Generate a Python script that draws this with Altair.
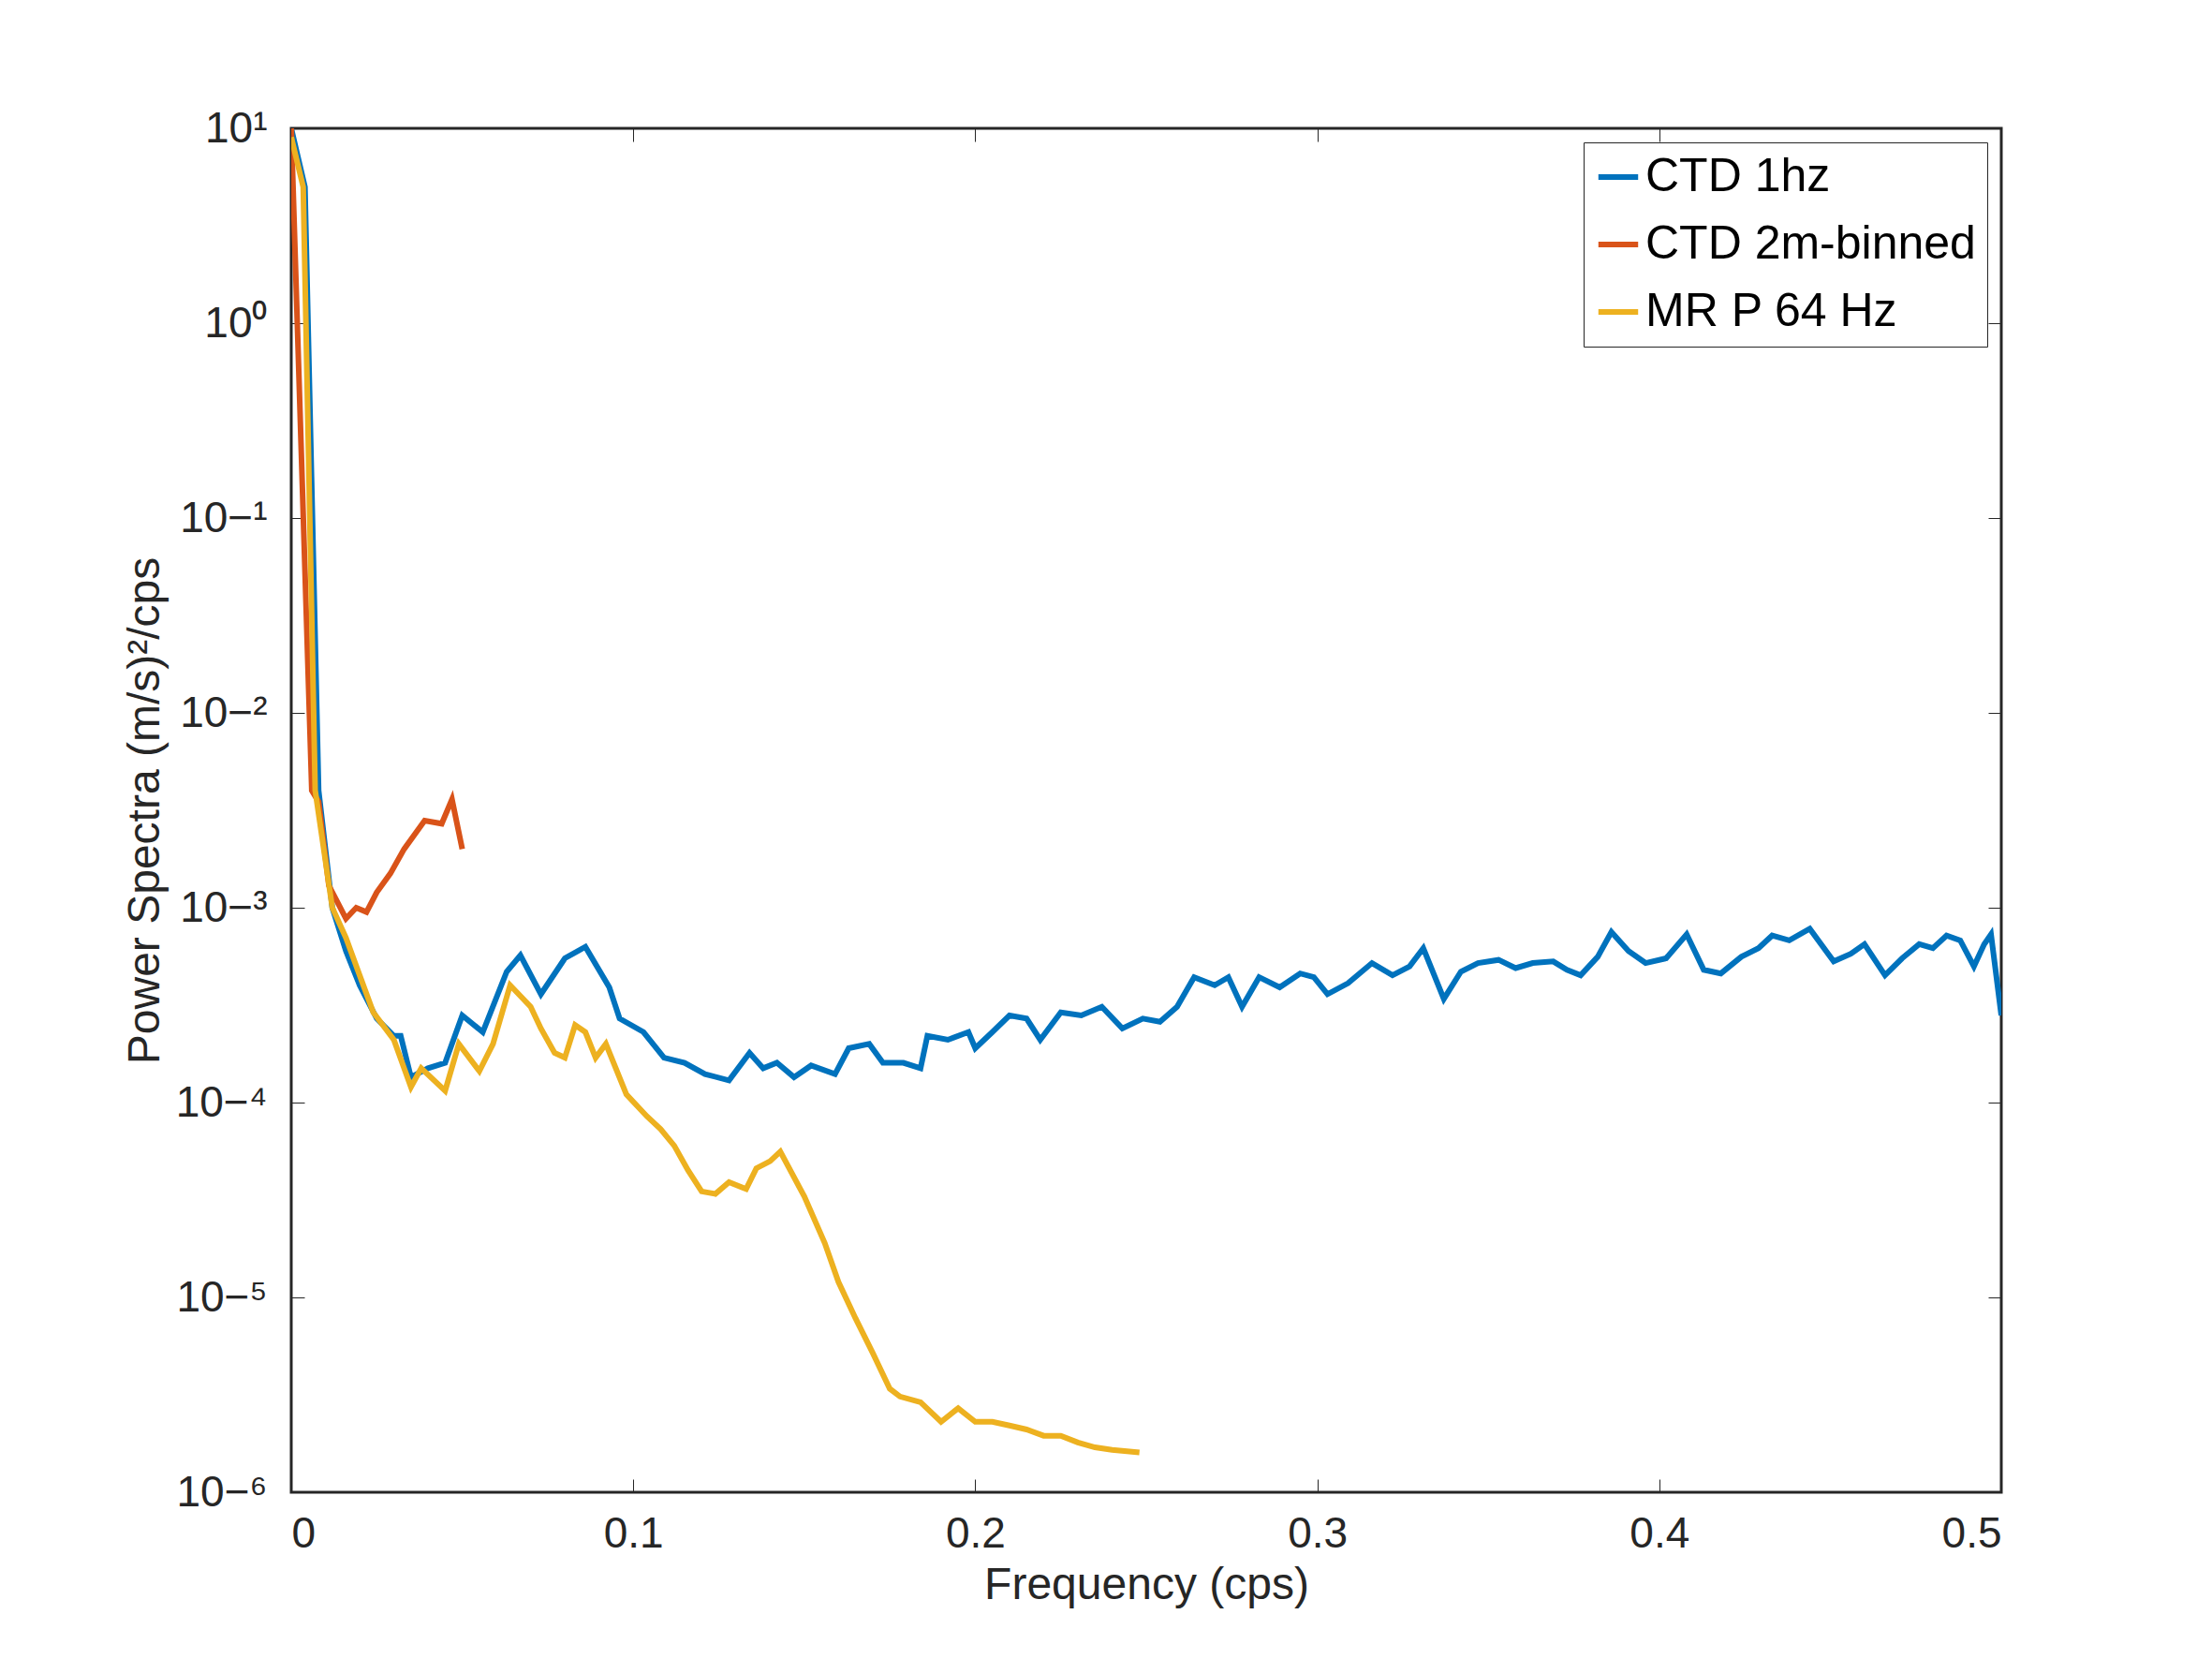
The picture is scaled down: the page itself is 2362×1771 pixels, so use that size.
import altair as alt
import pandas as pd

# CTD 1hz
blue_f = [0, 0.004, 0.008, 0.012, 0.016, 0.02, 0.025, 0.03, 0.032, 0.035, 0.04, 0.045, 0.05, 0.056,
          0.063, 0.067, 0.073, 0.08, 0.086, 0.093, 0.096, 0.103, 0.109, 0.115, 0.121, 0.128, 0.134,
          0.138, 0.142, 0.147, 0.152, 0.159, 0.163, 0.169, 0.173, 0.179, 0.184, 0.186, 0.192, 0.198,
          0.2, 0.205, 0.21, 0.215, 0.219, 0.225, 0.231, 0.237, 0.243, 0.249, 0.254, 0.259, 0.264,
          0.27, 0.274, 0.278, 0.283, 0.289, 0.295, 0.299, 0.303, 0.309, 0.316, 0.322, 0.327, 0.331,
          0.337, 0.342, 0.347, 0.353, 0.358, 0.363, 0.369, 0.373, 0.377, 0.382, 0.386, 0.391, 0.396,
          0.402, 0.408, 0.413, 0.418, 0.424, 0.429, 0.433, 0.438, 0.444, 0.451, 0.456, 0.46, 0.466,
          0.471, 0.476, 0.48, 0.484, 0.488, 0.492, 0.495, 0.497, 0.5]
blue_p = [10, 5, 4e-3, 1e-3, 6e-4, 4e-4, 2.7e-4, 2.2e-4, 2.2e-4, 1.35e-4, 1.5e-4, 1.6e-4, 2.8e-4, 2.3e-4,
          4.7e-4, 5.7e-4, 3.6e-4, 5.5e-4, 6.3e-4, 3.9e-4, 2.7e-4, 2.3e-4, 1.7e-4, 1.6e-4, 1.4e-4, 1.3e-4,
          1.8e-4, 1.5e-4, 1.6e-4, 1.35e-4, 1.55e-4, 1.4e-4, 1.9e-4, 2e-4, 1.6e-4, 1.6e-4, 1.5e-4, 2.2e-4,
          2.1e-4, 2.3e-4, 1.9e-4, 2.3e-4, 2.8e-4, 2.7e-4, 2.1e-4, 2.9e-4, 2.8e-4, 3.1e-4, 2.4e-4, 2.7e-4,
          2.6e-4, 3.1e-4, 4.4e-4, 4e-4, 4.4e-4, 3.1e-4, 4.4e-4, 3.9e-4, 4.6e-4, 4.4e-4, 3.6e-4, 4.1e-4,
          5.2e-4, 4.5e-4, 5e-4, 6.2e-4, 3.4e-4, 4.7e-4, 5.2e-4, 5.4e-4, 4.9e-4, 5.2e-4, 5.3e-4, 4.8e-4,
          4.5e-4, 5.6e-4, 7.5e-4, 6e-4, 5.2e-4, 5.5e-4, 7.3e-4, 4.8e-4, 4.6e-4, 5.6e-4, 6.2e-4, 7.2e-4,
          6.8e-4, 7.8e-4, 5.3e-4, 5.8e-4, 6.5e-4, 4.5e-4, 5.5e-4, 6.5e-4, 6.2e-4, 7.2e-4, 6.8e-4, 5e-4,
          6.5e-4, 7.3e-4, 2.8e-4]

# CTD 2m-binned
red_f = [0, 0.006, 0.008, 0.011, 0.016, 0.019, 0.022, 0.025, 0.029, 0.033, 0.039, 0.044, 0.047, 0.05]
red_p = [10, 4e-3, 3.5e-3, 1.3e-3, 8.8e-4, 1e-3, 9.5e-4, 1.2e-3, 1.5e-3, 2e-3, 2.8e-3, 2.7e-3, 3.6e-3, 2e-3]

# MR P 64 Hz
yel_f = [0, 0.0035, 0.007, 0.012, 0.016, 0.02, 0.024, 0.03, 0.035, 0.038, 0.045, 0.049, 0.055, 0.059,
         0.064, 0.07, 0.073, 0.077, 0.08, 0.083, 0.086, 0.089, 0.092, 0.098, 0.104, 0.108, 0.112, 0.116,
         0.12, 0.124, 0.128, 0.133, 0.136, 0.14, 0.143, 0.15, 0.156, 0.16, 0.165, 0.17, 0.175, 0.178,
         0.184, 0.19, 0.195, 0.2, 0.205, 0.21, 0.215, 0.22, 0.225, 0.23, 0.235, 0.24, 0.248]
yel_p = [9, 5, 4e-3, 1e-3, 7e-4, 4.5e-4, 2.9e-4, 2.1e-4, 1.2e-4, 1.5e-4, 1.15e-4, 2e-4, 1.45e-4, 2e-4,
         4e-4, 3.1e-4, 2.4e-4, 1.8e-4, 1.7e-4, 2.5e-4, 2.3e-4, 1.7e-4, 2e-4, 1.1e-4, 8.5e-5, 7.3e-5,
         6e-5, 4.5e-5, 3.5e-5, 3.4e-5, 3.9e-5, 3.6e-5, 4.6e-5, 5e-5, 5.6e-5, 3.3e-5, 1.9e-5, 1.2e-5,
         7.8e-6, 5.2e-6, 3.4e-6, 3.1e-6, 2.9e-6, 2.3e-6, 2.7e-6, 2.3e-6, 2.3e-6, 2.2e-6, 2.1e-6,
         1.95e-6, 1.95e-6, 1.8e-6, 1.7e-6, 1.65e-6, 1.6e-6]

names = ["CTD 1hz", "CTD 2m-binned", "MR P 64 Hz"]
colors = ["#0072BD", "#D95319", "#EDB120"]
x_ticks = [0, 0.1, 0.2, 0.3, 0.4, 0.5]
y_ticks = [1e-6, 1e-5, 1e-4, 1e-3, 1e-2, 1e-1, 1, 10]

df = pd.concat([
    pd.DataFrame({"f": blue_f, "p": blue_p, "s": names[0], "o": range(len(blue_f))}),
    pd.DataFrame({"f": red_f, "p": red_p, "s": names[1], "o": range(len(red_f))}),
    pd.DataFrame({"f": yel_f, "p": yel_p, "s": names[2], "o": range(len(yel_f))}),
])

FONT = "Liberation Sans"
sup = "replace(replace(replace(replace(replace(replace(replace(replace(format(log(datum.value)/log(10),'d'),'-','⁻'),'0','⁰'),'1','¹'),'2','²'),'3','³'),'4','⁴'),'5','⁵'),'6','⁶')"
ylab = "'10' + " + sup

xs = alt.Scale(domain=[0, 0.5], nice=False)
ys = alt.Scale(type="log", domain=[1e-6, 10], nice=False)
ax_common = dict(tickSize=14, offset=-14, tickColor="#262626", domain=False,
                 labelFont=FONT, labelFontSize=46, labelColor="#262626", grid=False,
                 titleFont=FONT, titleFontSize=48, titleFontWeight="normal", titleColor="#262626")

lines = alt.Chart(df).mark_line(strokeWidth=6, clip=True).encode(
    x=alt.X("f:Q", scale=xs, title="Frequency (cps)",
            axis=alt.Axis(values=x_ticks, labelExpr="datum.value == 0 ? '0' : format(datum.value, '.1f')",
                          labelPadding=22, titlePadding=8, **ax_common)),
    y=alt.Y("p:Q", scale=ys, title="Power Spectra (m/s)²/cps",
            axis=alt.Axis(values=y_ticks, labelExpr=ylab,
                          labelPadding=26, titlePadding=8, **ax_common)),
    color=alt.Color("s:N", scale=alt.Scale(domain=names, range=colors), title=None,
                    legend=alt.Legend(orient="top-right", offset=15, symbolType="stroke",
                                      symbolStrokeWidth=6, symbolSize=1800, labelFont=FONT,
                                      labelFontSize=50, labelColor="black", fillColor="white",
                                      strokeColor="#262626", padding=12, rowPadding=22,
                                      labelLimit=700)),
    order="o:Q",
)

mirror = alt.Chart(df).mark_line(opacity=0).encode(
    x=alt.X("f:Q", scale=xs, axis=alt.Axis(orient="top", values=x_ticks, labels=False, title=None,
                                           tickSize=14, offset=-14, domain=False, tickColor="#262626")),
    y=alt.Y("p:Q", scale=ys, axis=alt.Axis(orient="right", values=y_ticks, labels=False, title=None,
                                           tickSize=14, offset=-14, domain=False, tickColor="#262626")),
)

chart = alt.layer(lines, mirror).resolve_axis(x="independent", y="independent").properties(
    width=1826, height=1456,
    autosize=alt.AutoSizeParams(type="none"),
    padding={"left": 303, "top": 129, "right": 214, "bottom": 170},
    background="white",
).configure_view(stroke="#262626", strokeWidth=3)

chart.save("out.html", embed_options={"renderer": "svg", "actions": False})
